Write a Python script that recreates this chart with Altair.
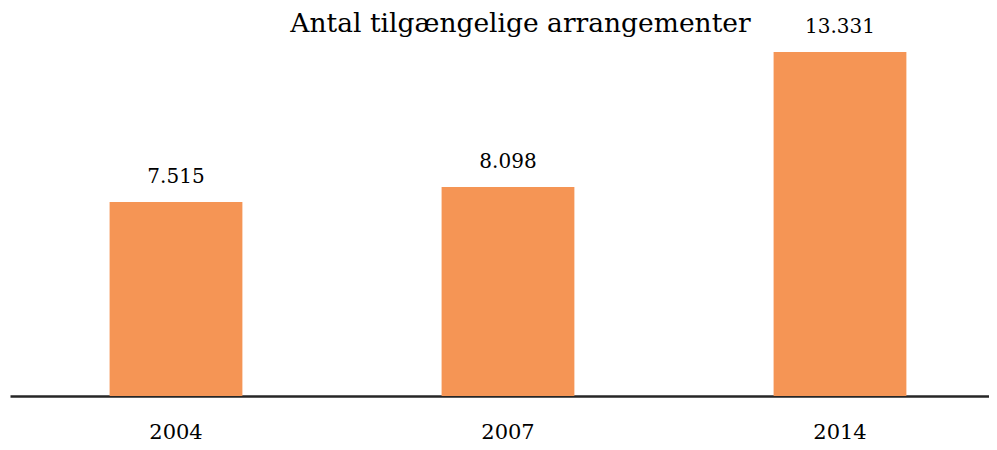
import altair as alt
import pandas as pd

years = ["2004", "2007", "2014"]
values = [7515, 8098, 13331]
labels = ["7.515", "8.098", "13.331"]

df = pd.DataFrame({"year": years, "value": values, "label": labels})

FONT = "DejaVu Serif"

base = alt.Chart(df).encode(
    x=alt.X("year:N", sort=years,
            scale=alt.Scale(paddingInner=0.6, paddingOuter=0.2744, align=0.5466),
            axis=alt.Axis(title=None, labelAngle=0, ticks=False, domainColor="#262626",
                          domainWidth=2.5, labelFont=FONT, labelFontSize=21,
                          labelColor="#000000", labelPadding=25, grid=False))
)

bars = base.mark_bar(color="#F59555").encode(
    y=alt.Y("value:Q", scale=alt.Scale(domain=[0, 15000], nice=False), axis=None)
)

text = base.mark_text(dy=-25, font=FONT, fontSize=20, color="#000000").encode(
    y=alt.Y("value:Q"),
    text="label:N"
)

chart = (bars + text).properties(
    width=979, height=387,
    title=alt.TitleParams("Antal tilgængelige arrangementer", font=FONT, fontSize=26.5,
                          fontWeight="normal", color="#000000", anchor="middle",
                          offset=-28, dx=21),
    autosize=alt.AutoSizeParams(type="none"),
    padding={"left": 2, "top": 1, "right": 0, "bottom": 46},
).configure_view(stroke=None)

chart.save("out.html", embed_options={"renderer": "svg", "actions": False})
